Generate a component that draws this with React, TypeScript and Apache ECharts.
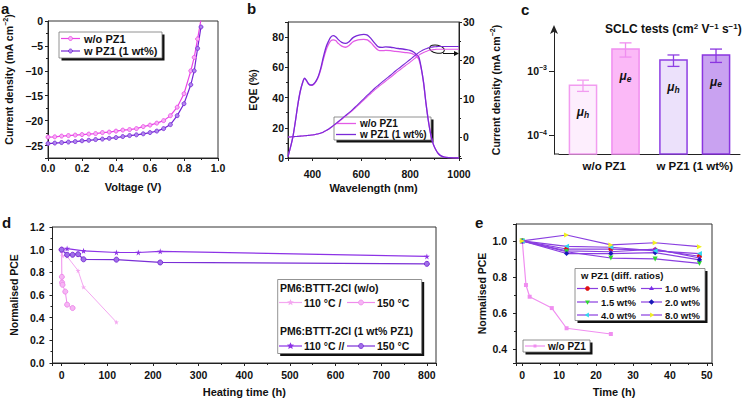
import React, { useEffect, useRef } from 'react';
import * as echarts from 'echarts';

const FONT = '"Liberation Sans", Arial, Helvetica, sans-serif';

// ---------- Panel a : J–V ----------
const jvVoltage = [0, 0.04, 0.08, 0.12, 0.16, 0.2, 0.24, 0.28, 0.32, 0.36, 0.4, 0.44, 0.48, 0.52, 0.56, 0.6, 0.64, 0.68, 0.72, 0.76, 0.8, 0.84, 0.86, 0.88, 0.9];
const jvWithout = [-23.3, -23.25, -23.1, -23.0, -22.9, -22.8, -22.7, -22.6, -22.4, -22.3, -22.1, -21.9, -21.8, -21.6, -21.2, -20.9, -20.5, -20.0, -19.0, -17.3, -14.6, -10.0, -7.3, -3.6, 0.3];
const jvWith = [-24.6, -24.5, -24.4, -24.3, -24.2, -24.05, -23.95, -23.8, -23.7, -23.55, -23.4, -23.2, -23.0, -22.85, -22.65, -22.4, -22.1, -21.6, -20.8, -19.0, -16.6, -12.8, -10.0, -5.5, -1.2];

// ---------- Panel b : EQE ----------
const eqeWavelength = [300, 310, 320, 330, 340, 350, 360, 368, 375, 385, 395, 405, 415, 425, 435, 445, 455, 465, 475, 485, 495, 505, 520, 535, 550, 565, 580, 595, 610, 625, 640, 655, 670, 685, 700, 720, 740, 760, 780, 800, 815, 825, 835, 845, 855, 865, 875, 885, 895, 905, 915, 925, 940, 960, 980, 1000];
const eqeWith = [1, 7, 14, 24, 35, 44, 50, 52.8, 51.5, 49, 48.3, 49, 51, 54.5, 60, 67, 73, 77, 80, 81, 80.3, 78.5, 76.5, 75.8, 77, 79.5, 80.8, 81.5, 81.8, 81.3, 79, 76, 73.5, 73.2, 73.5, 73.3, 72.7, 72.3, 71.8, 71.2, 70, 68.5, 67, 60, 50, 36, 24, 15, 9, 5.5, 3, 1.6, 0.6, 0.2, 0.05, 0];
const eqeWithout = [1, 7, 14, 24, 35, 44, 50, 52.5, 51.3, 48.8, 48, 48.7, 50.7, 54, 59, 65.5, 71, 75, 77.5, 78.2, 77.7, 76, 74, 73.3, 74.5, 76.8, 77.8, 78.3, 78.5, 78.2, 76.2, 73.5, 71.3, 71, 71.2, 71, 70.5, 70.2, 69.8, 69.4, 68.5, 67.3, 65.5, 59.5, 49.5, 36, 24.5, 15, 9, 5.5, 3, 1.5, 0.6, 0.2, 0.05, 0];
const jscWith = [0, 0, 0.05, 0.1, 0.15, 0.2, 0.25, 0.3, 0.35, 0.4, 0.5, 0.55, 0.7, 0.85, 1.05, 1.3, 1.65, 2.0, 2.45, 2.95, 3.45, 3.95, 4.75, 5.55, 6.35, 7.2, 8.1, 9.0, 9.95, 10.9, 11.8, 12.7, 13.5, 14.3, 15.1, 16.1, 17.2, 18.2, 19.2, 20.2, 21.0, 21.5, 22.0, 22.4, 22.75, 23.0, 23.25, 23.4, 23.5, 23.55, 23.6, 23.6, 23.6, 23.6, 23.6, 23.6];
const jscWithout = [0, 0, 0.05, 0.1, 0.15, 0.2, 0.25, 0.3, 0.35, 0.4, 0.48, 0.53, 0.68, 0.82, 1.0, 1.25, 1.6, 1.93, 2.37, 2.85, 3.33, 3.82, 4.6, 5.37, 6.15, 6.97, 7.83, 8.7, 9.62, 10.53, 11.4, 12.27, 13.05, 13.83, 14.6, 15.57, 16.63, 17.6, 18.57, 19.53, 20.3, 20.8, 21.3, 21.7, 22.05, 22.3, 22.55, 22.7, 22.8, 22.85, 22.9, 22.9, 22.9, 22.9, 22.9, 22.9];

// ---------- Panel c : SCLC mobilities ----------
const sclcGroups = ['w/o PZ1', 'w PZ1 (1 wt%)'];
const muH = [6.0e-4, 1.48e-3];
const muHErr = [1.2e-4, 3.0e-4];
const muE = [2.2e-3, 1.78e-3];
const muEErr = [5.5e-4, 4.2e-4];
const C_MIN = 5.05e-5;
const C_MAX = 4.53e-3;

// ---------- Panel d : thermal stability ----------
const d110WithoutTime = [0, 2, 12, 36, 48, 120];
const d110Without = [1.0, 0.945, 0.94, 0.815, 0.67, 0.36];
const d150WithoutTime = [0, 0.5, 1, 2, 8, 12, 24];
const d150Without = [1.0, 0.76, 0.71, 0.69, 0.63, 0.515, 0.485];
const d110WithTime = [0, 12, 48, 120, 168, 216, 800];
const d110With = [1.0, 1.01, 0.99, 0.975, 0.975, 0.985, 0.94];
const d150WithTime = [0, 12, 24, 36, 48, 120, 216, 800];
const d150With = [1.0, 0.955, 0.955, 0.96, 0.915, 0.912, 0.887, 0.875];

// ---------- Panel e : ratios ----------
const eTimeWithout = [0, 1, 2, 8, 12, 24];
const eWithout = [1.0, 0.755, 0.69, 0.627, 0.515, 0.483];
const eTime = [0, 12, 24, 36, 48];
const eRatioNames = ['0.5 wt%', '1.0 wt%', '1.5 wt%', '2.0 wt%', '4.0 wt%', '8.0 wt%'];
const e05 = [1.0, 0.955, 0.955, 0.95, 0.915];
const e10 = [1.0, 0.945, 0.94, 0.955, 0.905];
const e15 = [1.0, 0.94, 0.905, 0.9, 0.875];
const e20 = [1.0, 0.93, 0.93, 0.935, 0.895];
const e40 = [1.0, 0.97, 0.965, 0.945, 0.93];
const e80 = [1.0, 1.033, 0.978, 0.99, 0.968];
const eRatioValues = [e05, e10, e15, e20, e40, e80];

// ---------- styles ----------
const PINK = '#e944e6';
const PURPLE = '#7626d6';
const B_PINK = '#e35be6';
const B_PURPLE = '#7a2ad8';
const D110WO = '#f4a7f0';
const D150WO = '#ef8cec';
const D110W = '#8d33e6';
const D150W = '#7a2fd6';
const E_WO = '#f08ef0';
const E_W = '#8a3fe0';
const E_MARK = [
  { color: '#e01010', symbol: 'circle', rot: 0, legAng: 0 },
  { color: '#7a2ee8', symbol: 'triangle', rot: 0, legAng: -90 },
  { color: '#30d830', symbol: 'triangle', rot: 180, legAng: 90 },
  { color: '#1818b8', symbol: 'diamond', rot: 0, legAng: -90 },
  { color: '#30d8f0', symbol: 'triangle', rot: 90, legAng: 180 },
  { color: '#f0f020', symbol: 'triangle', rot: -90, legAng: 0 },
];
const SCLC_STYLE = [
  [{ fill: '#fdeefd', stroke: '#f29cf0' }, { fill: '#fbb9f7', stroke: '#f08ef0' }],
  [{ fill: '#ece1fb', stroke: '#8e3fe3' }, { fill: '#c9a2f1', stroke: '#8a35e0' }],
];
const STAR = 'path://M50,0 L61,35 L98,35 L68,57 L79,91 L50,70 L21,91 L32,57 L2,35 L39,35 Z';

const isMult = (v: number, step: number) => Math.abs(v / step - Math.round(v / step)) < 1e-6;
const lab = (size = 10.5) => ({ fontFamily: FONT, fontWeight: 'bold' as const, fontSize: size, color: '#111' });
const AXLINE = { show: true, onZero: false, lineStyle: { color: '#222', width: 1 } };
const TICK = { show: true, length: 3, lineStyle: { color: '#222' } };
const MINOR = { show: true, splitNumber: 2, length: 2, lineStyle: { color: '#222' } };
const NOSPLIT = { show: false };
const minus = (v: number) => (v < 0 ? '\u2212' + Math.abs(v) : String(v));

const supRich = (size: number) => ({
  n: { ...lab(size), lineHeight: 13 },
  s: { ...lab(size * 0.68), verticalAlign: 'top' as const, lineHeight: 13 },
});

// ---------- graphic helpers ----------
const T = (x: number, y: number, text: string, size = 11, align = 'left', extra: any = {}) => ({
  type: 'text', x, y, silent: true,
  style: { text, fontFamily: FONT, fontWeight: 'bold', fontSize: size, fill: '#111', align, verticalAlign: 'middle', ...extra },
});
const box = (x: number, y: number, w: number, h: number) => [
  { type: 'rect', shape: { x: x + 2.5, y: y + 2.5, width: w, height: h }, style: { fill: '#111' } },
  { type: 'rect', shape: { x, y, width: w, height: h }, style: { fill: '#fff', stroke: '#777', lineWidth: 0.8 } },
];
const seg = (x1: number, x2: number, y: number, color: string, w = 1.2) => ({
  type: 'line', shape: { x1, y1: y, x2, y2: y }, style: { stroke: color, lineWidth: w },
});
const dot = (cx: number, cy: number, r: number, fill: string, stroke?: string) => ({
  type: 'circle', shape: { cx, cy, r }, style: { fill, stroke: stroke || fill, lineWidth: 0.8 },
});
const poly = (cx: number, cy: number, r: number, n: number, angDeg: number, color: string, inner?: number) => {
  const pts: number[][] = [];
  const total = inner ? n * 2 : n;
  for (let i = 0; i < total; i++) {
    const a = (angDeg * Math.PI) / 180 + (i * 2 * Math.PI) / total;
    const rr = inner && i % 2 ? r * inner : r;
    pts.push([cx + rr * Math.cos(a), cy + rr * Math.sin(a)]);
  }
  return { type: 'polygon', shape: { points: pts }, style: { fill: color } };
};
const star = (cx: number, cy: number, r: number, color: string) => poly(cx, cy, r, 5, -90, color, 0.45);

function buildOption(): any {
  const grids = [
    { left: 48, top: 21, width: 170, height: 137 },
    { left: 288, top: 22, width: 171, height: 136 },
    { left: 559, top: 29, width: 181, height: 125 },
    { left: 51, top: 227, width: 385, height: 136 },
    { left: 516, top: 224, width: 196, height: 139 },
  ].map((g, i) => ({ ...g, show: i !== 2, borderColor: '#333', borderWidth: 1, containLabel: false }));

  const nameStyle = lab(11);
  const yNameStyle = lab(10.5);

  const xAxis = [
    {
      gridIndex: 0, type: 'value', min: 0, max: 1, interval: 0.2,
      axisLine: AXLINE, axisTick: TICK, minorTick: MINOR, splitLine: NOSPLIT,
      axisLabel: { ...lab(), margin: 4, formatter: (v: number) => v.toFixed(1) },
      name: 'Voltage (V)', nameLocation: 'middle', nameGap: 23, nameTextStyle: nameStyle,
    },
    {
      gridIndex: 1, type: 'value', min: 300, max: 1000, minInterval: 200, maxInterval: 200,
      axisLine: AXLINE, axisTick: TICK, minorTick: MINOR, splitLine: NOSPLIT,
      axisLabel: { ...lab(), margin: 10, formatter: (v: number) => (isMult(v, 200) ? String(v) : '') },
      name: 'Wavelength (nm)', nameLocation: 'middle', nameGap: 24, nameTextStyle: nameStyle,
    },
    {
      gridIndex: 2, type: 'category', data: sclcGroups,
      axisLine: AXLINE, axisTick: { show: false }, splitLine: NOSPLIT,
      axisLabel: { ...lab(11.5), margin: 6, interval: 0, hideOverlap: false },
    },
    {
      gridIndex: 3, type: 'value', min: -20, max: 820, minInterval: 100, maxInterval: 100,
      axisLine: AXLINE, axisTick: TICK, minorTick: MINOR, splitLine: NOSPLIT,
      axisLabel: { ...lab(), margin: 6, formatter: (v: number) => (isMult(v, 100) ? String(v) : '') },
      name: 'Heating time (h)', nameLocation: 'middle', nameGap: 23, nameTextStyle: nameStyle,
    },
    {
      gridIndex: 4, type: 'value', min: -1.7, max: 51.4, minInterval: 10, maxInterval: 10,
      axisLine: AXLINE, axisTick: TICK, minorTick: MINOR, splitLine: NOSPLIT,
      axisLabel: { ...lab(), margin: 6, formatter: (v: number) => (isMult(v, 10) ? String(Math.round(v)) : '') },
      name: 'Time (h)', nameLocation: 'middle', nameGap: 23, nameTextStyle: nameStyle,
    },
  ];

  const yAxis = [
    {
      gridIndex: 0, type: 'value', min: -27.5, max: 0, minInterval: 5, maxInterval: 5,
      axisLine: AXLINE, axisTick: TICK, minorTick: MINOR, splitLine: NOSPLIT,
      axisLabel: { ...lab(), margin: 5, formatter: (v: number) => (isMult(v, 5) ? minus(Math.round(v)) : '') },
      name: '{n|Current density (mA cm}{s|\u22122}{n|)}', nameLocation: 'middle', nameGap: 33, nameRotate: 90,
      nameTextStyle: { ...yNameStyle, rich: supRich(10.5), padding: [0, 0, 0, 20] },
    },
    {
      gridIndex: 1, type: 'value', min: 0, max: 90, interval: 20, position: 'left',
      axisLine: AXLINE, axisTick: TICK, minorTick: MINOR, splitLine: NOSPLIT,
      axisLabel: { ...lab(), margin: 4, formatter: (v: number) => (isMult(v, 20) ? String(v) : '') },
      name: 'EQE (%)', nameLocation: 'middle', nameGap: 30, nameRotate: 90, nameTextStyle: yNameStyle,
    },
    {
      gridIndex: 1, type: 'value', min: -5.5, max: 30, minInterval: 10, maxInterval: 10, position: 'right',
      axisLine: AXLINE, axisTick: TICK, minorTick: MINOR, splitLine: NOSPLIT,
      axisLabel: { ...lab(), margin: 4, formatter: (v: number) => (isMult(v, 10) ? String(Math.round(v)) : '') },
      name: '{n|Current density (mA cm}{s|\u22122}{n|)}', nameLocation: 'middle', nameGap: 30, nameRotate: 90,
      nameTextStyle: { ...yNameStyle, rich: supRich(10.5) },
    },
    {
      gridIndex: 2, type: 'log', logBase: 10, min: C_MIN, max: C_MAX, offset: 5,
      axisLine: { ...AXLINE, symbol: ['none', 'arrow'], symbolSize: [6, 9], symbolOffset: [0, 4] },
      axisTick: { show: true, length: 5, lineStyle: { color: '#222' }, customValues: [1e-4, 1e-3] },
      minorTick: { show: false }, splitLine: NOSPLIT,
      axisLabel: {
        margin: 7, customValues: [1e-4, 1e-3],
        formatter: (v: number) => {
          const e = Math.log10(v);
          if (Math.abs(e - Math.round(e)) > 1e-6) return '';
          return '{b|10}{s|\u2212' + Math.abs(Math.round(e)) + '}';
        },
        rich: { b: { ...lab(10.5), lineHeight: 13 }, s: { ...lab(7), verticalAlign: 'top', lineHeight: 13 } },
      },
    },
    {
      gridIndex: 3, type: 'value', min: 0, max: 1.2, interval: 0.2,
      axisLine: AXLINE, axisTick: TICK, minorTick: MINOR, splitLine: NOSPLIT,
      axisLabel: { ...lab(), margin: 8, formatter: (v: number) => v.toFixed(1) },
      name: 'Normalised PCE', nameLocation: 'middle', nameGap: 33, nameRotate: 90, nameTextStyle: yNameStyle,
    },
    {
      gridIndex: 4, type: 'value', min: 0.322, max: 1.094, minInterval: 0.2, maxInterval: 0.2,
      axisLine: AXLINE, axisTick: TICK, minorTick: MINOR, splitLine: NOSPLIT,
      axisLabel: { ...lab(), margin: 9, formatter: (v: number) => (isMult(v, 0.2) ? v.toFixed(1) : '') },
      name: 'Normalised PCE', nameLocation: 'middle', nameGap: 29, nameRotate: 90, nameTextStyle: yNameStyle,
    },
  ];

  const pair = (xs: number[], ys: number[]) => xs.map((x, i) => [x, ys[i]]);

  const series: any[] = [
    // a
    {
      name: 'w/o PZ1', type: 'line', xAxisIndex: 0, yAxisIndex: 0, data: pair(jvVoltage, jvWithout),
      symbol: 'circle', symbolSize: 4, lineStyle: { color: PINK, width: 1.2 },
      itemStyle: { color: '#f7b0f5', borderColor: PINK, borderWidth: 0.8 },
    },
    {
      name: 'w PZ1 (1 wt%)', type: 'line', xAxisIndex: 0, yAxisIndex: 0, data: pair(jvVoltage, jvWith),
      symbol: 'circle', symbolSize: 4, lineStyle: { color: PURPLE, width: 1.2 },
      itemStyle: { color: '#b088ee', borderColor: PURPLE, borderWidth: 0.8 },
    },
    // b
    { name: 'EQE w/o PZ1', type: 'line', xAxisIndex: 1, yAxisIndex: 1, data: pair(eqeWavelength, eqeWithout), showSymbol: false, smooth: 0.3, lineStyle: { color: B_PINK, width: 1.3 } },
    { name: 'EQE w PZ1', type: 'line', xAxisIndex: 1, yAxisIndex: 1, data: pair(eqeWavelength, eqeWith), showSymbol: false, smooth: 0.3, lineStyle: { color: B_PURPLE, width: 1.3 } },
    { name: 'Jsc w/o PZ1', type: 'line', xAxisIndex: 1, yAxisIndex: 2, data: pair(eqeWavelength, jscWithout), showSymbol: false, smooth: 0.3, lineStyle: { color: B_PINK, width: 1.1 } },
    { name: 'Jsc w PZ1', type: 'line', xAxisIndex: 1, yAxisIndex: 2, data: pair(eqeWavelength, jscWith), showSymbol: false, smooth: 0.3, lineStyle: { color: B_PURPLE, width: 1.1 } },
    // c
    {
      name: 'SCLC', type: 'custom', xAxisIndex: 2, yAxisIndex: 3,
      data: sclcGroups.flatMap((_, i) => [[i, muH[i], muHErr[i], 0], [i, muE[i], muEErr[i], 1]]),
      encode: { x: 0, y: 1 },
      renderItem: (_params: any, api: any) => {
        const gi = api.value(0);
        const v = api.value(1);
        const err = api.value(2);
        const k = api.value(3);
        const top = api.coord([gi, v]);
        const baseY = api.coord([gi, C_MIN])[1];
        const band = api.size([1, 0])[0];
        const cx = top[0] + (k === 0 ? -1 : 1) * band * 0.235;
        const bw = band * 0.3;
        const hiY = api.coord([gi, v + err])[1];
        const loY = api.coord([gi, v - err])[1];
        const st = SCLC_STYLE[gi][k];
        const es = { stroke: st.stroke, lineWidth: 1.3 };
        const sub = k === 0 ? 'h' : 'e';
        return {
          type: 'group',
          children: [
            { type: 'rect', shape: { x: cx - bw / 2, y: top[1], width: bw, height: baseY - top[1] }, style: { fill: st.fill, stroke: st.stroke, lineWidth: 1.5 } },
            { type: 'line', shape: { x1: cx, y1: hiY, x2: cx, y2: loY }, style: es },
            { type: 'line', shape: { x1: cx - 6, y1: hiY, x2: cx + 6, y2: hiY }, style: es },
            { type: 'line', shape: { x1: cx - 6, y1: loY, x2: cx + 6, y2: loY }, style: es },
            {
              type: 'text', x: cx, y: top[1] + 27,
              style: {
                text: '{m|\u03bc}{s|' + sub + '}', align: 'center', verticalAlign: 'middle',
                rich: {
                  m: { fontFamily: FONT, fontWeight: 'bold', fontStyle: 'italic', fontSize: 12, fill: '#111', lineHeight: 14 },
                  s: { fontFamily: FONT, fontWeight: 'bold', fontStyle: 'italic', fontSize: 8.5, fill: '#111', verticalAlign: 'bottom', lineHeight: 14 },
                },
              },
            },
          ],
        };
      },
    },
    // d
    { name: 'w/o 110', type: 'line', xAxisIndex: 3, yAxisIndex: 4, data: pair(d110WithoutTime, d110Without), symbol: STAR, symbolSize: 5, lineStyle: { color: D110WO, width: 1 }, itemStyle: { color: D110WO } },
    { name: 'w/o 150', type: 'line', xAxisIndex: 3, yAxisIndex: 4, data: pair(d150WithoutTime, d150Without), symbol: 'circle', symbolSize: 5, lineStyle: { color: D150WO, width: 1 }, itemStyle: { color: '#f6b6f4', borderColor: D150WO, borderWidth: 1 } },
    { name: 'w 110', type: 'line', xAxisIndex: 3, yAxisIndex: 4, data: pair(d110WithTime, d110With), symbol: STAR, symbolSize: 6, lineStyle: { color: D110W, width: 1.2 }, itemStyle: { color: D110W } },
    { name: 'w 150', type: 'line', xAxisIndex: 3, yAxisIndex: 4, data: pair(d150WithTime, d150With), symbol: 'circle', symbolSize: 5, lineStyle: { color: D150W, width: 1.2 }, itemStyle: { color: '#a070e8', borderColor: D150W, borderWidth: 1 } },
    // e
    { name: 'e w/o PZ1', type: 'line', xAxisIndex: 4, yAxisIndex: 5, data: pair(eTimeWithout, eWithout), symbol: 'rect', symbolSize: 4, lineStyle: { color: E_WO, width: 1.2 }, itemStyle: { color: E_WO } },
    ...eRatioValues.map((vals, i) => ({
      name: eRatioNames[i], type: 'line', xAxisIndex: 4, yAxisIndex: 5, data: pair(eTime, vals),
      symbol: E_MARK[i].symbol, symbolRotate: E_MARK[i].rot, symbolSize: 5,
      lineStyle: { color: E_W, width: 1.2 }, itemStyle: { color: E_MARK[i].color }, z: 3 + i,
    })),
  ];

  const graphic: any[] = [
    // panel letters
    T(1, 8, 'a', 15), T(247, 8, 'b', 15), T(521, 9, 'c', 15), T(2, 222, 'd', 15), T(475, 222, 'e', 15),
    // legend a
    ...box(59, 32, 103, 26),
    seg(61, 80, 38.5, PINK), dot(70.5, 38.5, 2, '#f7b0f5', PINK), T(84, 38.5, 'w/o PZ1', 11),
    seg(61, 80, 51, PURPLE), dot(70.5, 51, 2, '#b088ee', PURPLE), T(84, 51, 'w PZ1 (1 wt%)', 11),
    // legend b
    ...box(334, 117, 97, 23),
    seg(336, 356, 123.5, B_PINK, 1.3), T(360, 123.5, 'w/o PZ1', 10),
    seg(336, 356, 134.5, B_PURPLE, 1.3), T(360, 134.5, 'w PZ1 (1 wt%)', 10),
    // annotation b
    { type: 'ellipse', shape: { cx: 437, cy: 49, rx: 7.5, ry: 4 }, rotation: -0.2, originX: 437, originY: 49, style: { fill: 'none', stroke: '#111', lineWidth: 1 } },
    { type: 'line', shape: { x1: 443, y1: 53.5, x2: 455, y2: 53.5 }, style: { stroke: '#111', lineWidth: 1 } },
    { type: 'polygon', shape: { points: [[454, 51], [459, 53.5], [454, 56]] }, style: { fill: '#111' } },
    // SCLC title
    {
      type: 'text', x: 605, y: 29, silent: true,
      style: {
        text: '{t|SCLC tests (cm}{u|2}{t| V}{u|\u22121}{t| s}{u|\u22121}{t|)}', align: 'left', verticalAlign: 'middle',
        rich: {
          t: { fontFamily: FONT, fontWeight: 'bold', fontSize: 12, fill: '#111', lineHeight: 14 },
          u: { fontFamily: FONT, fontWeight: 'bold', fontSize: 8, fill: '#111', verticalAlign: 'top', lineHeight: 14 },
        },
      },
    },
    { type: 'line', shape: { x1: 554, y1: 154, x2: 559, y2: 154 }, style: { stroke: '#222', lineWidth: 1 } },
    // legend d
    ...box(277.7, 279.5, 144, 74),
    T(280, 287.5, 'PM6:BTTT-2Cl (w/o)', 10.5),
    seg(279, 302, 302.5, D110WO), star(290.5, 302.5, 3.5, D110WO), T(304, 302.5, '110 \u00b0C /', 10.5),
    seg(347, 375, 302.5, D150WO), dot(361, 302.5, 2.5, '#f6b6f4', D150WO), T(377, 302.5, '150 \u00b0C', 10.5),
    T(280, 331, 'PM6:BTTT-2Cl (1 wt% PZ1)', 10.5),
    seg(279, 302, 346, D110W), star(290.5, 346, 3.8, D110W), T(304, 346, '110 \u00b0C //', 10.5),
    seg(347, 375, 346, D150W), dot(361, 346, 2.5, '#a070e8', D150W), T(377, 346, '150 \u00b0C', 10.5),
    // legend e (ratios)
    ...box(575, 268.5, 130, 52),
    T(581, 275.5, 'w PZ1 (diff. ratios)', 9.5),
    ...[0, 1, 2, 3, 4, 5].flatMap((i) => {
      const row = Math.floor(i / 2);
      const col = i % 2;
      const y = [288.5, 302, 315][row];
      const x1 = col === 0 ? 577 : 641;
      const mx = x1 + 10.5;
      const m = E_MARK[i];
      let mark: any;
      if (m.symbol === 'circle') mark = dot(mx, y, 2, m.color);
      else if (m.symbol === 'diamond') mark = poly(mx, y, 2.8, 4, -90, m.color);
      else mark = poly(mx, y, 2.8, 3, m.legAng, m.color);
      return [seg(x1, x1 + 21, y, E_W), mark, T(x1 + 24, y, eRatioNames[i], 9.5)];
    }),
    // legend e (w/o)
    ...box(523, 340, 67, 12),
    seg(525, 545, 346, E_WO), { type: 'rect', shape: { x: 533.5, y: 344.5, width: 3, height: 3 }, style: { fill: E_WO } },
    T(548, 346, 'w/o PZ1', 10),
  ];

  return {
    animation: false,
    backgroundColor: '#fff',
    textStyle: { fontFamily: FONT },
    grid: grids,
    xAxis,
    yAxis,
    series,
    graphic,
  };
}

export default function App() {
  const ref = useRef<HTMLDivElement>(null);
  useEffect(() => {
    const chart = echarts.init(ref.current as HTMLDivElement, null, { renderer: 'svg' });
    chart.setOption(buildOption());
    return () => chart.dispose();
  }, []);
  return <div ref={ref} style={{ position: 'fixed', left: 0, top: 0, width: 742, height: 400, background: '#fff' }} />;
}
